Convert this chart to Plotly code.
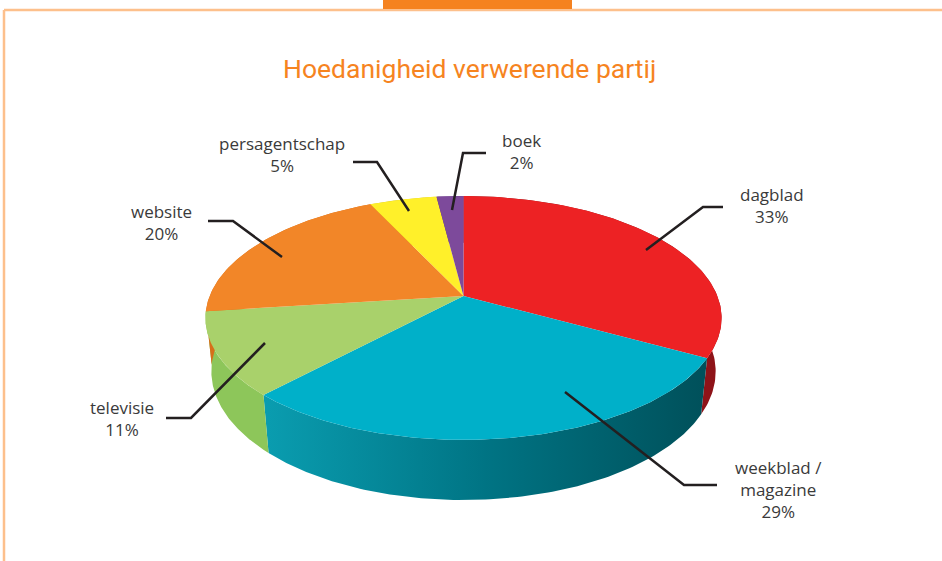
import numpy as np
import plotly.graph_objects as go

# ---- data ----
categories = ["dagblad", "weekblad /\nmagazine", "televisie", "website", "persagentschap", "boek"]
values = [33, 29, 11, 20, 5, 2]
title_text = "Hoedanigheid verwerende partij"

# ---- styles ----
top_colors = ["#ED2224", "#00B0C9", "#A9D16B", "#F28628", "#FFF02A", "#7D4A9B"]
side_colors = ["#8E1318", "#007F8F", "#8DC65A", "#D66F1A", "#D8C41E", "#5E3478"]
side_gradient = {1: [[0, "#0A9DB0"], [0.5, "#007484"], [1, "#00505A"]]}

# label positions (pixel layout) and leader line elbows
label_pos = [(772, 205), (778, 489), (122, 418), (161, 222), (282, 154), (521, 151)]
leaders = [
    [(646, 250), (703, 207), (723, 207)],
    [(565, 392), (684, 485), (717, 485)],
    [(265, 343), (191, 418), (166, 418)],
    [(282, 257), (233, 221), (208, 221)],
    [(409, 211), (377, 162), (353, 162)],
    [(452, 210), (463, 153), (486, 153)],
]

W, H = 942, 561
cx, cy = 463.5, 296
e = np.radians(27.7)
L = 4.92
F = 1249
h = 0.24


def proj(theta, z):
    x3 = np.sin(theta)
    y3 = np.cos(theta)
    zc = y3 * np.cos(e) + L - z * np.sin(e)
    yc = y3 * np.sin(e) + z * np.cos(e)
    return cx + F * x3 / zc, cy - F * yc / zc


fig = go.Figure()

total = float(sum(values))
bounds = np.concatenate([[0], np.cumsum(values)]) / total * 2 * np.pi

# side walls
for i, v in enumerate(values):
    th = np.linspace(bounds[i], bounds[i + 1], 120)
    tx, ty = proj(th, 0.0)
    bx, by = proj(th, -h)
    xs = np.concatenate([tx, bx[::-1], tx[:1]])
    ys = np.concatenate([ty, by[::-1], ty[:1]])
    kw = dict(fillcolor=side_colors[i])
    if i in side_gradient:
        kw = dict(fillgradient=dict(type="horizontal", colorscale=side_gradient[i]))
    fig.add_trace(go.Scatter(x=xs, y=ys, mode="lines", fill="toself",
                             line=dict(width=0), hoverinfo="skip", showlegend=False, **kw))

# top faces
for i, v in enumerate(values):
    th = np.linspace(bounds[i], bounds[i + 1], 120)
    tx, ty = proj(th, 0.0)
    xs = np.concatenate([[cx], tx, [cx]])
    ys = np.concatenate([[cy], ty, [cy]])
    fig.add_trace(go.Scatter(x=xs, y=ys, mode="lines", fill="toself",
                             fillcolor=top_colors[i], line=dict(width=0),
                             hoverinfo="skip", showlegend=False))

# leader lines
for pts in leaders:
    fig.add_trace(go.Scatter(x=[p[0] for p in pts], y=[p[1] for p in pts], mode="lines",
                             line=dict(color="#231F20", width=2.5), hoverinfo="skip",
                             showlegend=False))

annotations = []
for i, (name, v) in enumerate(zip(categories, values)):
    annotations.append(dict(x=label_pos[i][0], y=label_pos[i][1], xref="x", yref="y",
                            text=name.replace("\n", "<br>") + "<br>" + f"{v}%",
                            showarrow=False, align="center",
                            font=dict(family="Open Sans, sans-serif", size=17, color="#3A3A3A")))
annotations.append(dict(x=469, y=68, xref="x", yref="y", text=title_text, showarrow=False,
                        font=dict(family="Roboto", size=26.5, color="#F6841F")))

shapes = [
    dict(type="line", xref="x", yref="y", x0=4, x1=W, y0=10, y1=10,
         line=dict(color="#FDC08C", width=2.5)),
    dict(type="line", xref="x", yref="y", x0=4, x1=4, y0=10, y1=H,
         line=dict(color="#FDC08C", width=2.5)),
    dict(type="rect", xref="x", yref="y", x0=383, x1=572, y0=0, y1=9,
         fillcolor="#F5821F", line=dict(width=0)),
]

fig.update_layout(
    width=W, height=H, margin=dict(l=0, r=0, t=0, b=0),
    paper_bgcolor="white", plot_bgcolor="white",
    xaxis=dict(range=[0, W], visible=False, fixedrange=True),
    yaxis=dict(range=[H, 0], visible=False, fixedrange=True),
    annotations=annotations, shapes=shapes,
)

fig.write_html("out.html", config={"displayModeBar": False},
               post_script="document.body.style.margin='0';")
